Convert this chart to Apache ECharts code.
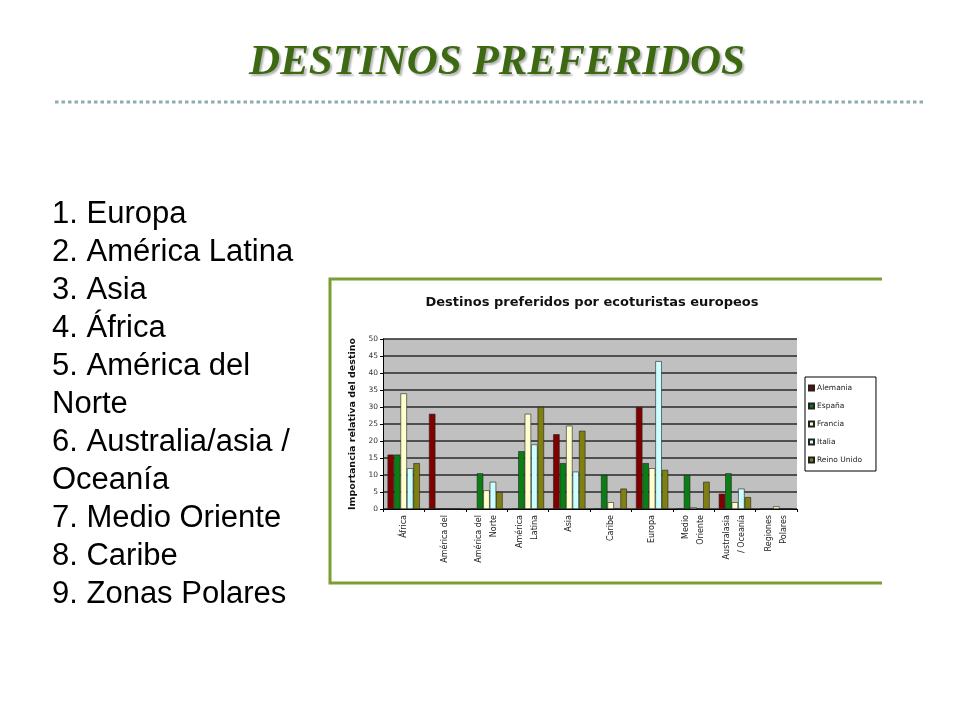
<!DOCTYPE html>
<html>
<head>
<meta charset="utf-8">
<script src="https://cdn.jsdelivr.net/npm/echarts@6/dist/echarts.min.js"></script>
<style>html,body{margin:0;padding:0;background:#fff}#c{width:960px;height:720px}</style>
</head>
<body>
<div id="c"></div>
<script>
// ---- data ----
const slideTitle = 'DESTINOS PREFERIDOS';
const rankingLines = ['1. Europa','2. América Latina','3. Asia','4. África','5. América del','Norte','6. Australia/asia /','Oceanía','7. Medio Oriente','8. Caribe','9. Zonas Polares'];
const chartTitle = 'Destinos preferidos por ecoturistas europeos';
const yAxisName = 'Importancia relativa del destino';
const categories = ['África','América del','América del\nNorte','América\nLatina','Asia','Caribe','Europa','Medio\nOriente','Australasia\n/ Oceanía','Regiones\nPolares'];
const seriesNames = ['Alemania','España','Francia','Italia','Reino Unido'];
const alemania   = [16, 28, 0, 0, 22, 0, 30, 0, 4.5, 0];
const espana     = [16, 0, 10.5, 17, 13.5, 10, 13.5, 10, 10.5, 0];
const francia    = [34, 0, 5.5, 28, 24.5, 2, 12, 0.5, 2, 0.8];
const italia     = [12, 0, 8, 19, 11, 0, 43.5, 0, 6, 0];
const reinoUnido = [13.5, 0, 5, 30, 23, 6, 11.5, 8, 3.5, 0];
const seriesValues = [alemania, espana, francia, italia, reinoUnido];
const seriesColors = ['#800000','#0a7d14','#ffffcc','#ccffff','#7f7f12'];

const chart = echarts.init(document.getElementById('c'), null, {renderer:'canvas'});
chart.setOption({
  backgroundColor: '#ffffff',
  animation: false,
  title: {
    text: chartTitle,
    left: 587, top: 291, textAlign: 'center',
    textStyle: {fontFamily: 'DejaVu Sans', fontWeight: 'bold', fontSize: 13, color: '#111'}
  },
  legend: {
    data: seriesNames,
    orient: 'vertical',
    left: 805, top: 377,
    itemWidth: 5, itemHeight: 5, itemGap: 10,
    icon: 'rect',
    padding: [7, 14, 7, 3],
    borderColor: '#000', borderWidth: 1,
    backgroundColor: '#fff',
    textStyle: {fontFamily: 'DejaVu Sans', fontSize: 7.5, color: '#222', lineHeight: 8, padding: [0,0,0,-2]}
  },
  grid: {
    left: 383, right: 163, top: 339, bottom: 211,
    show: true, backgroundColor: '#c0c0c0', borderWidth: 0
  },
  xAxis: {
    type: 'category',
    data: categories,
    axisLine: {lineStyle: {color: '#000', width: 1}},
    axisTick: {show: true, length: 3, lineStyle: {color: '#000'}},
    axisLabel: {rotate: 90, fontFamily: 'DejaVu Sans', fontSize: 8, color: '#222', margin: 6, lineHeight: 15, interval: 0}
  },
  yAxis: {
    type: 'value', min: 0, max: 50, interval: 5,
    name: yAxisName, nameLocation: 'middle', nameGap: 25,
    nameTextStyle: {fontFamily: 'DejaVu Sans', fontWeight: 'bold', fontSize: 9.5, color: '#111'},
    axisLine: {show: true, lineStyle: {color: '#000', width: 1}},
    axisTick: {show: true, length: 3, lineStyle: {color: '#000'}},
    axisLabel: {fontFamily: 'DejaVu Sans', fontSize: 7.5, color: '#333', margin: 5},
    splitLine: {show: true, lineStyle: {color: '#2a2a2a', width: 1.5}}
  },
  series: seriesNames.map((n, i) => ({
    name: n,
    type: 'bar',
    data: seriesValues[i],
    barGap: '0%',
    barCategoryGap: '22%',
    itemStyle: {color: seriesColors[i], borderColor: '#222', borderWidth: 0.6}
  })),
  graphic: [
    {type: 'polyline', shape: {points: [[882,279],[330,279],[330,583],[882,583]]},
     style: {stroke: '#7a9e33', lineWidth: 3, fill: null}, z: 10},
    {type: 'text', x: 497, y: 63,
     style: {text: slideTitle, font: 'italic bold 43px "Liberation Serif"', fill: '#3c6912',
       textAlign: 'center', textVerticalAlign: 'middle',
       textShadowColor: 'rgba(0,0,0,0.3)', textShadowOffsetX: 2, textShadowOffsetY: 2, textShadowBlur: 2}},
    {type: 'line', shape: {x1: 55, y1: 102, x2: 925, y2: 102},
     style: {stroke: '#8faab2', lineWidth: 3, lineDash: [3.5, 3]}},
    {type: 'text', x: 52, y: 195,
     style: {text: rankingLines.join('\n'), fontFamily: 'Liberation Sans', fontSize: 31, lineHeight: 38,
       fill: '#000', textAlign: 'left', textVerticalAlign: 'top'}}
  ]
});
</script>
</body>
</html>
